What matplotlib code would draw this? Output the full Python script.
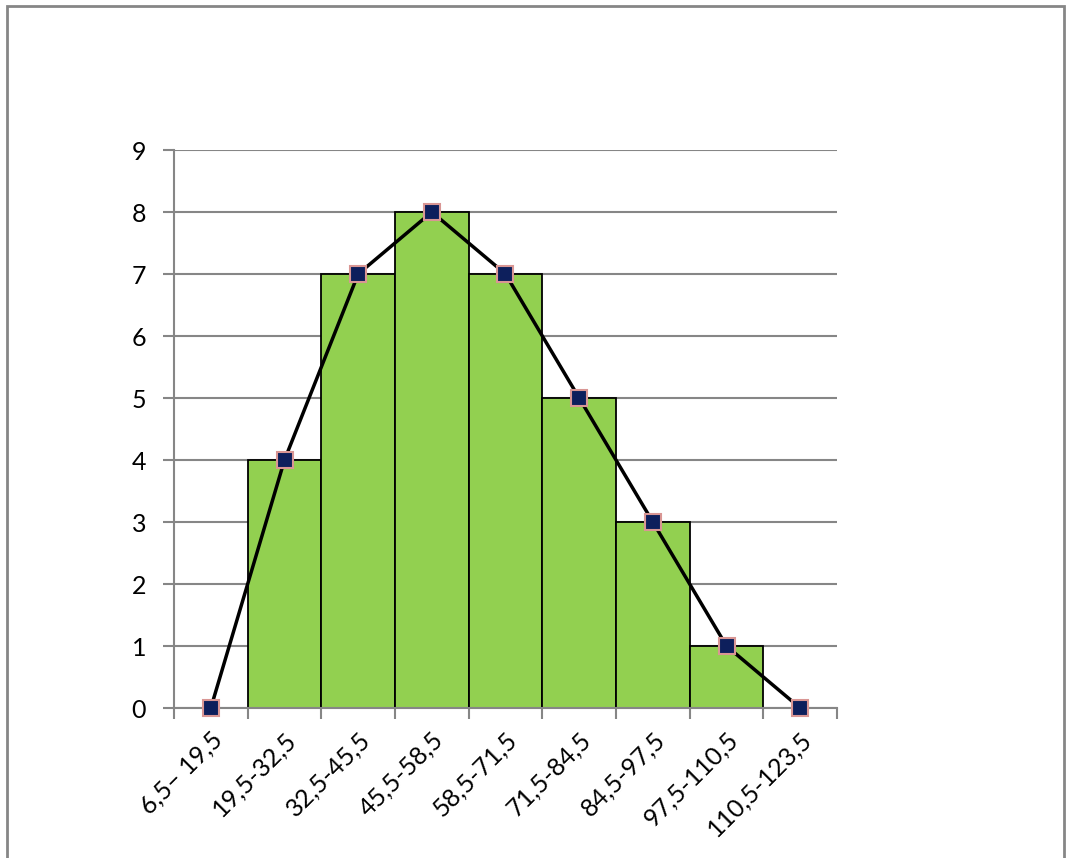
import matplotlib.pyplot as plt
from matplotlib.patches import Rectangle
import numpy as np

categories = ['6,5\u2013 19,5', '19,5-32,5', '32,5-45,5', '45,5-58,5', '58,5-71,5',
              '71,5-84,5', '84,5-97,5', '97,5-110,5', '110,5-123,5']
bar_values = [0, 4, 7, 8, 7, 5, 3, 1, 0]
line_values = [0, 4, 7, 8, 7, 5, 3, 1, 0]

plt.rcParams['font.family'] = ['Lato', 'DejaVu Sans']

fig = plt.figure(figsize=(10.67, 8.58), dpi=100)
ax = fig.add_axes([174 / 1067, 1 - 708 / 858, (837 - 174) / 1067, (708 - 150) / 858])

x = np.arange(len(categories))
ax.bar(x, bar_values, width=1.0, color='#92D050', edgecolor='black', linewidth=1.3, zorder=2)
ax.plot(x, line_values, color='black', linewidth=2.5, zorder=3, clip_on=False,
        marker='s', markersize=11, markerfacecolor='#0D1F5C',
        markeredgecolor='#D99694', markeredgewidth=1.5)

ax.set_xlim(-0.5, len(categories) - 0.5)
ax.set_ylim(0, 9)
ax.set_yticks(range(10))
ax.yaxis.grid(True, color='#868686', linewidth=1.5, zorder=0)
ax.set_axisbelow(True)

ax.set_xticks(np.arange(-0.5, len(categories)), minor=False)
ax.set_xticklabels([])
ax.set_xticks(x, minor=True)
ax.set_xticklabels(categories, minor=True, rotation=45, ha='right',
                   rotation_mode='anchor', fontsize=18)
ax.tick_params(axis='x', which='major', length=8, width=1.5, color='#868686')
ax.tick_params(axis='x', which='minor', length=0, pad=14)
ax.tick_params(axis='y', length=8, width=1.5, color='#868686', labelsize=18, pad=12)

for side in ['top', 'right']:
    ax.spines[side].set_visible(False)
for side in ['left', 'bottom']:
    ax.spines[side].set_color('#868686')
    ax.spines[side].set_linewidth(1.5)

fig.patches.append(Rectangle((7 / 1067, -0.05), (1064 - 7) / 1067, 1.05 - 6 / 858,
                             transform=fig.transFigure, fill=False,
                             edgecolor='#868686', linewidth=2))

fig.savefig('out.png', dpi=100)
